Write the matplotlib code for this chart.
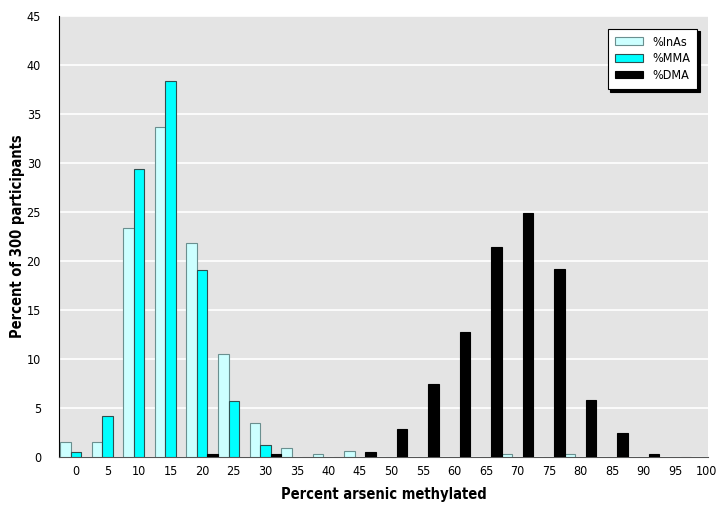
import matplotlib
matplotlib.use('Agg')
import matplotlib.pyplot as plt
import numpy as np

plt.rcParams['font.family'] = ['DejaVu Sans']
plt.rcParams['font.stretch'] = 'condensed'

# Verileri (yaklaşık değerler)
bins = [0, 5, 10, 15, 20, 25, 30, 35, 40, 45, 50, 55, 60, 65, 70, 75, 80, 85, 90, 95, 100]
inas = [1.5, 1.5, 23.4, 33.7, 21.8, 10.5, 3.5, 0.9, 0.3, 0.6, 0, 0, 0, 0, 0.3, 0, 0.3, 0, 0, 0, 0]
mma = [0.5, 4.2, 29.4, 38.4, 19.1, 5.7, 1.2, 0, 0, 0, 0, 0, 0, 0, 0, 0, 0, 0, 0, 0, 0]
dma = [0, 0, 0, 0, 0.3, 0, 0.3, 0, 0, 0.5, 2.9, 7.5, 12.8, 21.4, 24.9, 19.2, 5.8, 2.5, 0.3, 0, 0]

fig = plt.figure(figsize=(7.2, 5.09), dpi=100)
ax = fig.add_axes([0.082, 0.102, 0.901, 0.867])
ax.set_facecolor('#e4e4e4')

x = np.arange(len(bins))
w = 0.333
ax.bar(x - w, inas, w, color='#ccffff', edgecolor='#6a8f8f', linewidth=0.8, label='%InAs', zorder=3)
ax.bar(x, mma, w, color='#00ffff', edgecolor='#2f4f4f', linewidth=0.8, label='%MMA', zorder=3)
ax.bar(x + w, dma, w, color='black', edgecolor='black', linewidth=0.8, label='%DMA', zorder=3)

ax.set_xlim(-0.54, 20.03)
ax.set_ylim(0, 45)
ax.set_yticks(range(0, 46, 5))
ax.set_xticks(x)
ax.set_xticklabels([str(b) for b in bins])
ax.yaxis.grid(True, color='white', linewidth=1.2, zorder=0)
ax.tick_params(axis='both', length=0, labelsize=9)
ax.tick_params(axis='y', pad=13)
ax.tick_params(axis='x', pad=6)

for s in ['top', 'right']:
    ax.spines[s].set_visible(False)
ax.spines['left'].set_color('black')
ax.spines['bottom'].set_color('#555555')

ax.set_xlabel('Percent arsenic methylated', fontsize=10.5, fontweight='bold', labelpad=6)
ax.set_ylabel('Percent of 300 participants', fontsize=10.5, fontweight='bold')
ax.yaxis.set_label_coords(-0.052, 0.5)

leg = ax.legend(loc='upper right', bbox_to_anchor=(0.993, 0.985), fontsize=9,
                frameon=True, fancybox=False, shadow={'color': 'black', 'alpha': 1},
                handlelength=2.3, handleheight=0.55, borderpad=0.55, labelspacing=0.3,
                handletextpad=0.7)
leg.get_frame().set_edgecolor('black')
leg.get_frame().set_linewidth(0.8)

plt.savefig('out.png', dpi=100)
plt.close()
